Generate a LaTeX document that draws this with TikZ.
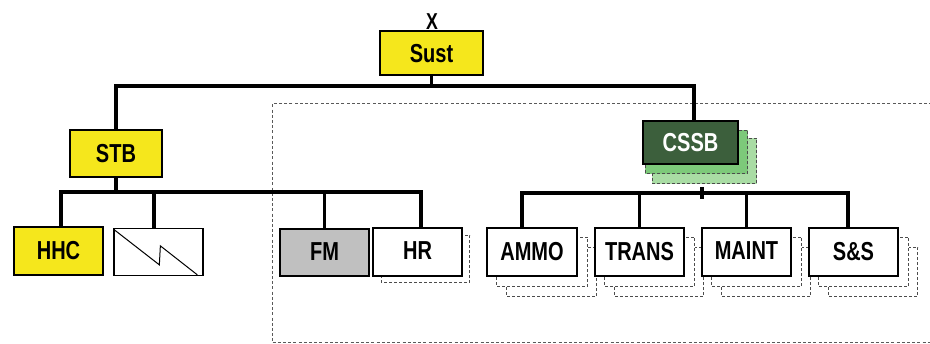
\documentclass[tikz,border=0pt]{standalone}
\usepackage{fontspec}
\setmainfont{Liberation Sans}[FakeStretch=0.77]
\usetikzlibrary{calc,backgrounds}
\definecolor{armyyellow}{HTML}{F5E71C}
\definecolor{fmgray}{HTML}{C0C0C0}
\definecolor{cssbgreen}{HTML}{3C5F3C}
\definecolor{shadowA}{HTML}{7DC97A}
\definecolor{shadowB}{HTML}{A9DCA4}
\begin{document}
\begin{tikzpicture}[x=1pt,y=-1pt,
  unit/.style={draw=black, line width=1.3pt, minimum width=89pt, minimum height=48pt,
    inner sep=0pt, text depth=2pt, font=\fontsize{26}{26}\selectfont\bfseries, fill=white},
  yellowunit/.style={unit, fill=armyyellow},
  bus/.style={line width=3.5pt},
  ghost/.style={draw=black!70, dash pattern=on 3pt off 2pt, line width=0.9pt, fill=white},
  boundary/.style={draw=black!65, dash pattern=on 3pt off 2.2pt, line width=1pt},
  zigline/.style={line width=1pt}]
\useasboundingbox (0,0) rectangle (930,344);

% dotted region
\coordinate (r1) at (932,104);
\coordinate (r2) at (272,104);
\coordinate (r3) at (272,343);
\coordinate (r4) at (932,343);
\draw[boundary] (r1) -- (r2) -- (r3) -- (r4);

% nodes
\node[yellowunit, text depth=0pt, minimum width=103pt, minimum height=44pt] (sust) at (431.5,53) {Sust};
\node[font=\fontsize{23}{23}\selectfont\bfseries, anchor=base, inner sep=0pt] (echelon) at (432,29.5) {X};
\node[yellowunit, text depth=0pt, minimum width=92pt, minimum height=47pt] (stb) at (116,153.5) {STB};
\node[yellowunit] (hhc) at (58.5,251) {HHC};
\node[unit, minimum height=47pt] (zig) at (158.5,252) {};
\node[unit, fill=fmgray, minimum height=47pt] (fm) at (324.5,252.5) {FM};
\node[unit] (hr) at (417.5,252) {HR};
\node[unit, fill=cssbgreen, text=white, text depth=0pt, minimum width=95pt, minimum height=43pt] (cssb) at (690.5,142.5) {CSSB};
\node[unit, minimum width=90pt] (ammo) at (532,252) {AMMO};
\node[unit] (trans) at (639.5,252) {TRANS};
\node[unit] (maint) at (746.5,252) {MAINT};
\node[unit] (ss) at (853.5,252) {S\&S};

% shadows
\begin{scope}[on background layer]
  \draw[ghost, fill=shadowB] ([shift={(10,18)}]cssb.north west) rectangle ([shift={(18,19)}]cssb.south east);
  \draw[ghost, fill=shadowA] ([shift={(3,10)}]cssb.north west) rectangle ([shift={(9,9)}]cssb.south east);
  \draw[ghost] ([shift={(9,8)}]hr.north west) rectangle ([shift={(7,6)}]hr.south east);
  \foreach \n in {ammo,trans,maint,ss}{
    \draw[ghost] ([shift={(20,20)}]\n.north west) rectangle ([shift={(19,20)}]\n.south east);
    \draw[ghost] ([shift={(10,10)}]\n.north west) rectangle ([shift={(10,10)}]\n.south east);
  }
\end{scope}

% zigzag in empty unit
\draw[zigline] ([shift={(1,2)}]zig.north west) -- ([shift={(46,37)}]zig.north west)
  -- ([shift={(47,18)}]zig.north west) -- ([shift={(84,47)}]zig.north west);

% connectors
\coordinate (b1) at (431.5,86);
\draw[bus] (sust.south) -- (b1);
\draw[bus] (stb.north) |- (b1) -| ([xshift=3.5pt]cssb.north);

\coordinate (b2) at (116,192);
\draw[bus] (stb.south) -- (b2);
\draw[bus] ([xshift=2.5pt]hhc.north) |- (b2) -| ([xshift=3.5pt]hr.north);
\draw[bus] ([xshift=-4.5pt]zig.north) -- ([xshift=-4.5pt]zig.north |- b2);
\draw[bus] (fm.north) -- (fm.north |- b2);

\coordinate (b3) at (702,193);
\draw[bus] ([yshift=6pt]b3) -- ([yshift=-6pt]b3);
\draw[bus] ([xshift=-10pt]ammo.north) |- (b3) -| ([xshift=-5.5pt]ss.north);
\draw[bus] (trans.north) -- (trans.north |- b3);
\draw[bus] (maint.north) -- (maint.north |- b3);
\end{tikzpicture}
\end{document}
